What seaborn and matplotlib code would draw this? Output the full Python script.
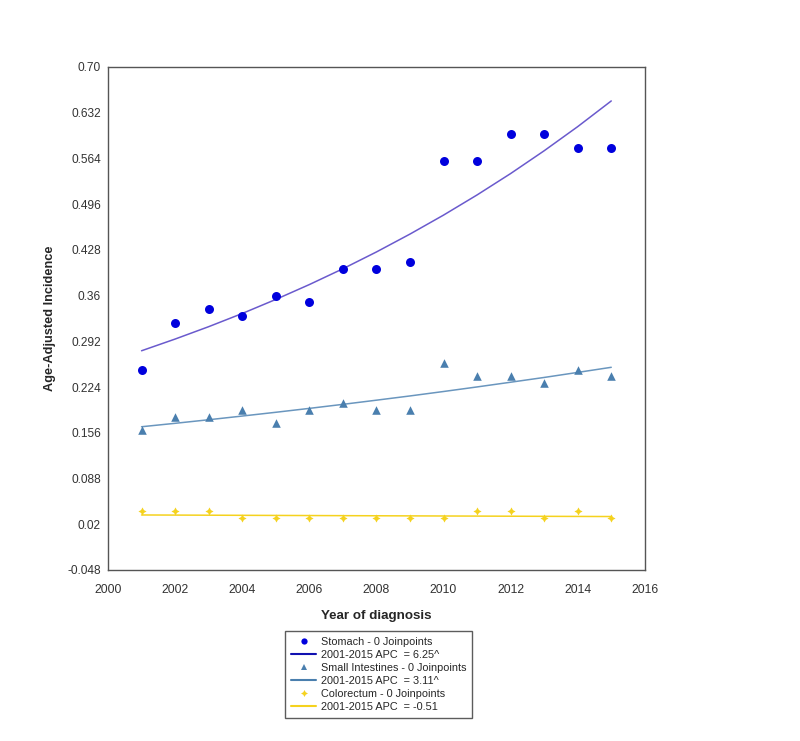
import matplotlib
matplotlib.use("Agg")
import matplotlib.pyplot as plt
import seaborn as sns
import pandas as pd
from matplotlib.lines import Line2D

sns.set_theme(style="white")
plt.rcParams['font.family'] = ['Liberation Sans', 'DejaVu Sans']

years = list(range(2001, 2016))

stomach_obs = [0.25, 0.32, 0.34, 0.33, 0.36, 0.35, 0.40, 0.40, 0.41, 0.56, 0.56, 0.60, 0.60, 0.58, 0.58]
stomach_fit = [0.278, 0.2954, 0.3138, 0.3334, 0.3543, 0.3764, 0.3999, 0.4249, 0.4515, 0.4797,
               0.5097, 0.5415, 0.5754, 0.6113, 0.6495]

small_obs = [0.16, 0.18, 0.18, 0.19, 0.17, 0.19, 0.20, 0.19, 0.19, 0.26, 0.24, 0.24, 0.23, 0.25, 0.24]
small_fit = [0.165, 0.1701, 0.1754, 0.1809, 0.1865, 0.1923, 0.1983, 0.2045, 0.2108, 0.2174,
             0.2242, 0.2312, 0.2383, 0.2458, 0.2534]

colo_obs = [0.04, 0.04, 0.04, 0.03, 0.03, 0.03, 0.03, 0.03, 0.03, 0.03, 0.04, 0.04, 0.03, 0.04, 0.03]
colo_fit = [0.0338, 0.03363, 0.03346, 0.03329, 0.03312, 0.03295, 0.03278, 0.03261, 0.03245, 0.03228,
            0.03212, 0.03195, 0.03179, 0.03163, 0.03147]

series_names = ["Stomach", "Small Intestines", "Colorectum"]
obs_labels = ["Stomach - 0 Joinpoints", "Small Intestines - 0 Joinpoints", "Colorectum - 0 Joinpoints"]
fit_labels = ["2001-2015 APC  = 6.25^", "2001-2015 APC  = 3.11^", "2001-2015 APC  = -0.51"]

y_ticks = [0.70, 0.632, 0.564, 0.496, 0.428, 0.36, 0.292, 0.224, 0.156, 0.088, 0.02, -0.048]
y_tick_labels = ["0.70", "0.632", "0.564", "0.496", "0.428", "0.36", "0.292", "0.224", "0.156", "0.088", "0.02", "-0.048"]
x_ticks = [2000, 2002, 2004, 2006, 2008, 2010, 2012, 2014, 2016]

obs_df = pd.DataFrame({
    "year": years * 3,
    "value": stomach_obs + small_obs + colo_obs,
    "site": sum([[n] * len(years) for n in series_names], []),
})
fit_df = pd.DataFrame({
    "year": years * 3,
    "value": stomach_fit + small_fit + colo_fit,
    "site": sum([[n] * len(years) for n in series_names], []),
})

pt_colors = {"Stomach": "#0000DD", "Small Intestines": "#4A7FAE", "Colorectum": "#F5D21E"}
ln_colors = {"Stomach": "#6A5ACD", "Small Intestines": "#6A96BE", "Colorectum": "#F5D21E"}
legend_line_colors = ["#1010B0", "#4A7FAE", "#F5D21E"]
markers = {"Stomach": "o", "Small Intestines": "^", "Colorectum": (4, 1, 0)}
sizes = {"Stomach": 42, "Small Intestines": 38, "Colorectum": 34}
leg_msize = {"Stomach": 4.5, "Small Intestines": 4.5, "Colorectum": 5}

fig = plt.figure(figsize=(8.0, 7.41), dpi=100)
ax = fig.add_axes([0.135, 0.2308, 0.671, 0.6788])

for name in series_names:
    sub_f = fit_df[fit_df.site == name]
    sns.lineplot(data=sub_f, x="year", y="value", color=ln_colors[name], lw=1.1, ax=ax, legend=False)
    sub_o = obs_df[obs_df.site == name]
    sns.scatterplot(data=sub_o, x="year", y="value", color=pt_colors[name], marker=markers[name],
                    s=sizes[name], linewidth=0, ax=ax, legend=False, zorder=3)

ax.set_xlim(2000, 2016)
ax.set_ylim(-0.048, 0.70)
ax.set_xticks(x_ticks)
ax.set_xticklabels([str(x) for x in x_ticks], fontsize=8.8, color="#333333")
ax.set_yticks(y_ticks)
ax.set_yticklabels(y_tick_labels, fontsize=8.6, color="#333333")
ax.tick_params(axis="x", length=0, pad=10)
ax.tick_params(axis="y", length=0, pad=5)
for sp in ax.spines.values():
    sp.set_color("#555555")
    sp.set_linewidth(1.0)

ax.set_xlabel("Year of diagnosis", fontsize=9.6, fontweight="bold", labelpad=10)
ax.set_ylabel("Age-Adjusted Incidence", fontsize=9.2, fontweight="bold", labelpad=8)

handles = []
labels = []
for i, name in enumerate(series_names):
    m = markers[name]
    handles.append(Line2D([], [], linestyle="none", marker=m, color=pt_colors[name],
                          markersize=leg_msize[name], markeredgewidth=0))
    labels.append(obs_labels[i])
    handles.append(Line2D([], [], color=legend_line_colors[i], lw=1.5))
    labels.append(fit_labels[i])

leg = fig.legend(handles, labels, loc="upper center", bbox_to_anchor=(0.4735, 0.149),
                 fontsize=7.8, frameon=True, fancybox=False, handlelength=2.3,
                 labelspacing=0.28, borderpad=0.55, handletextpad=0.4, borderaxespad=0)
leg.get_frame().set_edgecolor("#333333")
leg.get_frame().set_linewidth(1.0)

fig.savefig("out.png", dpi=100, facecolor="white")
